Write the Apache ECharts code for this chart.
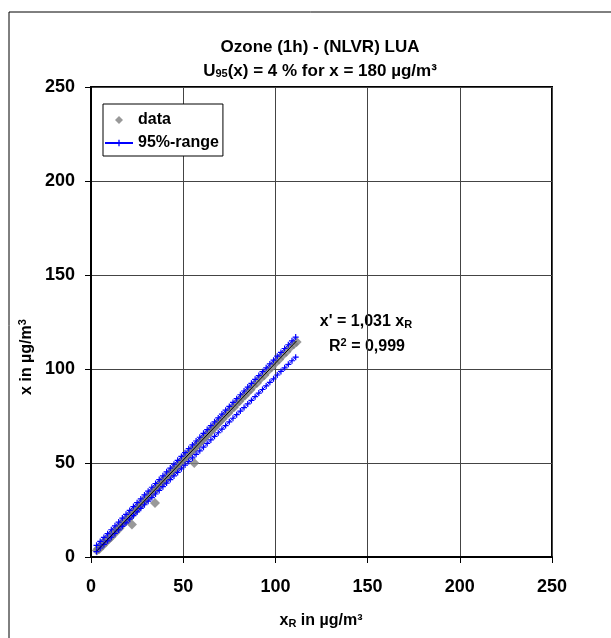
<!DOCTYPE html>
<html><head><meta charset="utf-8">
<script src="https://cdn.jsdelivr.net/npm/echarts@6/dist/echarts.min.js"></script>
<style>html,body{margin:0;padding:0;background:#fff}#c{width:611px;height:638px}</style>
</head><body><div id="c"></div>
<script>
// measured data (xR, x')
const dataPoints = [
[3.2,3.5],[3.8,4.4],[4.5,4.2],[5.1,5.6],[5.8,6.3],[6.4,6.1],[7.0,7.6],[7.7,8.4],[8.3,8.1],[9.0,9.8],
[9.6,9.5],[10.3,11.0],[11.0,10.6],[11.8,12.5],[12.5,13.3],[13.2,12.9],[14.0,14.8],[14.8,15.5],[15.5,15.3],[16.3,17.2],
[17.1,17.4],[18.0,18.9],[18.8,19.0],[19.6,20.5],[20.5,21.0],[21.3,21.4],[22.2,17.3],[22.2,23.2],[23.1,23.6],[24.0,25.1],
[24.9,25.4],[25.8,26.5],[26.7,27.8],[27.6,28.2],[28.5,29.6],[29.4,30.0],[30.3,31.3],[31.2,31.9],[32.1,33.3],[33.0,33.8],
[34.0,35.2],[34.7,28.7],[35.0,35.9],[36.0,37.3],[37.0,38.0],[38.0,39.4],[39.0,40.0],[40.0,41.4],[41.0,42.1],[42.0,43.5],
[43.0,44.1],[44.0,45.6],[45.0,46.2],[46.0,47.6],[47.0,48.3],[48.0,49.6],[49.0,50.4],[50.0,51.8],[51.0,52.4],[52.0,53.8],
[53.0,54.5],[54.0,55.9],[55.0,56.5],[56.0,57.9],[56.0,50.0],[57.0,58.6],[58.0,60.0],[59.0,60.7],[60.0,62.1],[61.0,62.7],
[62.0,64.1],[63.0,64.8],[64.0,66.2],[65.0,66.8],[66.0,68.3],[67.0,68.9],[68.0,70.3],[69.0,71.0],[70.0,72.4],[71.5,73.5],
[73.0,75.5],[74.5,76.6],[76.0,78.6],[77.5,79.7],[79.0,81.7],[80.5,82.8],[82.0,84.8],[83.5,85.9],[85.0,87.8],[86.5,89.0],
[88.0,90.9],[90.0,92.6],[92.0,95.0],[94.0,96.7],[96.0,99.1],[98.0,100.9],[100.0,103.2],[102.0,105.0],[104.0,107.3],[106.0,109.2],
[108.0,111.4],[110.0,113.2],[111.5,114.3]
];
const rangeX = [3,5,7,9,11,13,15,17,19,21,23,25,27,29,31,33,35,37,39,41,43,45,47,49,51,53,55,57,59,61,63,65,67,69,71,73,75,77,79,81,83,85,87,89,91,93,95,97,99,101,103,105,107,109,111];
const upperY = [6.2,8.3,10.4,12.4,14.5,16.6,18.6,20.7,22.7,24.8,26.8,28.9,30.9,33.0,35.0,37.1,39.1,41.2,43.2,45.3,47.3,49.4,51.4,53.5,55.5,57.6,59.6,61.7,63.7,65.8,67.8,69.9,71.9,74.0,76.0,78.1,80.1,82.2,84.2,86.3,88.3,90.4,92.4,94.5,96.5,98.6,100.6,102.7,104.7,106.8,108.8,110.9,112.9,115.0,117.0];
const lowerY = [2.9,4.8,6.7,8.6,10.5,12.5,14.4,16.3,18.2,20.1,22.0,24.0,25.9,27.8,29.7,31.6,33.5,35.4,37.4,39.3,41.2,43.1,45.0,46.9,48.9,50.8,52.7,54.6,56.5,58.4,60.4,62.3,64.2,66.1,68.0,69.9,71.9,73.8,75.7,77.6,79.5,81.4,83.3,85.3,87.2,89.1,91.0,92.9,94.8,96.8,98.7,100.6,102.5,104.4,106.3];
const regLine = [[3,3.09],[111.5,114.96]];
const axisTicks = [0,50,100,150,200,250];

const F = '"Liberation Sans", Arial, sans-serif';
const plus = 'path://M2,0H3V2H5V3H3V5H2V3H0V2H2Z';
const diamond = 'path://M5,0L10,5L5,10L0,5Z';
const zip = (xs, ys) => xs.map((x, i) => [x, ys[i]]);

const chart = echarts.init(document.getElementById('c'), null, {renderer:'canvas'});
chart.setOption({
  animation:false,
  backgroundColor:'#fff',
  grid:{left:91, top:87, width:461, height:470, show:true, borderColor:'#000', borderWidth:2, backgroundColor:'transparent'},
  legend:{
    data:[{name:'data', icon:diamond}, {name:'95%-range'}], orient:'vertical', left:103, top:104,
    backgroundColor:'#fff', borderColor:'#000', borderWidth:1, borderRadius:0,
    padding:[8,4,5,1], itemGap:7, itemWidth:28, itemHeight:8, symbolKeepAspect:true,
    textStyle:{fontFamily:F, fontWeight:'bold', fontSize:16, color:'#000'}
  },
  xAxis:{type:'value', min:0, max:250, interval:50,
    axisLine:{show:true, lineStyle:{color:'#000', width:2}},
    axisTick:{show:true, inside:false, length:6, lineStyle:{color:'#000'}},
    splitLine:{show:true, lineStyle:{color:'#444', width:1}},
    axisLabel:{fontFamily:F, fontWeight:'bold', fontSize:18, color:'#000', margin:21,
      formatter:v=>axisTicks.includes(v)?String(v):''}},
  yAxis:{type:'value', min:0, max:250, interval:50,
    axisLine:{show:true, lineStyle:{color:'#000', width:2}},
    axisTick:{show:true, inside:false, length:6, lineStyle:{color:'#000'}},
    splitLine:{show:true, lineStyle:{color:'#444', width:1}},
    axisLabel:{fontFamily:F, fontWeight:'bold', fontSize:18, color:'#000', margin:16,
      formatter:v=>axisTicks.includes(v)?String(v):''}},
  series:[
    {name:'data', type:'scatter', data:dataPoints, symbol:'diamond', symbolSize:10,
      itemStyle:{color:'#808080'}, z:2},
    {name:'95%-range', type:'line', data:zip(rangeX, upperY), symbol:plus, symbolSize:6, showAllSymbol:true,
      lineStyle:{color:'#0000ff', width:1}, itemStyle:{color:'#0000ff'}, z:3},
    {name:'95%-range', type:'line', data:zip(rangeX, lowerY), symbol:plus, symbolSize:6, showAllSymbol:true,
      lineStyle:{color:'#0000ff', width:1}, itemStyle:{color:'#0000ff'}, z:3},
    {name:'fit', type:'line', data:regLine, symbol:'none', lineStyle:{color:'#000', width:1}, z:4}
  ],
  graphic:[
    {type:'rect', shape:{x:9, y:12, width:800, height:800}, style:{fill:'none', stroke:'#000', lineWidth:1}, silent:true, z:-1},
    {type:'text', x:320, y:47, style:{text:'Ozone (1h) - (NLVR) LUA', font:'bold 17px '+F, textAlign:'center', textVerticalAlign:'middle', fill:'#000'}},
    {type:'text', x:320, y:71, style:{text:'{n|U}{s|95}{n|(x) = 4 % for x = 180 µg/m³}', textAlign:'center', textVerticalAlign:'middle', fill:'#000',
      rich:{n:{font:'bold 17px '+F, fill:'#000'}, s:{font:'bold 11px '+F, fill:'#000', padding:[6,0,0,0]}}}},
    {type:'text', x:366, y:322, style:{text:"{n|x' = 1,031 x}{s|R}", textAlign:'center', textVerticalAlign:'middle',
      rich:{n:{font:'bold 16px '+F, fill:'#000'}, s:{font:'bold 11px '+F, fill:'#000', padding:[6,0,0,0]}}}},
    {type:'text', x:367, y:347, style:{text:"{n|R}{s|2}{n| = 0,999}", textAlign:'center', textVerticalAlign:'middle',
      rich:{n:{font:'bold 16px '+F, fill:'#000'}, s:{font:'bold 11px '+F, fill:'#000', padding:[0,0,8,0]}}}},
    {type:'text', x:321, y:621, style:{text:"{n|x}{s|R}{n| in µg/m³}", textAlign:'center', textVerticalAlign:'middle',
      rich:{n:{font:'bold 16px '+F, fill:'#000'}, s:{font:'bold 11px '+F, fill:'#000', padding:[6,0,0,0]}}}},
    {type:'text', x:27, y:357, rotation:Math.PI/2, style:{text:"{n|x in µg/m}{s|3}", textAlign:'center', textVerticalAlign:'middle',
      rich:{n:{font:'bold 16px '+F, fill:'#000'}, s:{font:'bold 11px '+F, fill:'#000', padding:[0,0,8,0]}}}}
  ]
});
</script></body></html>
